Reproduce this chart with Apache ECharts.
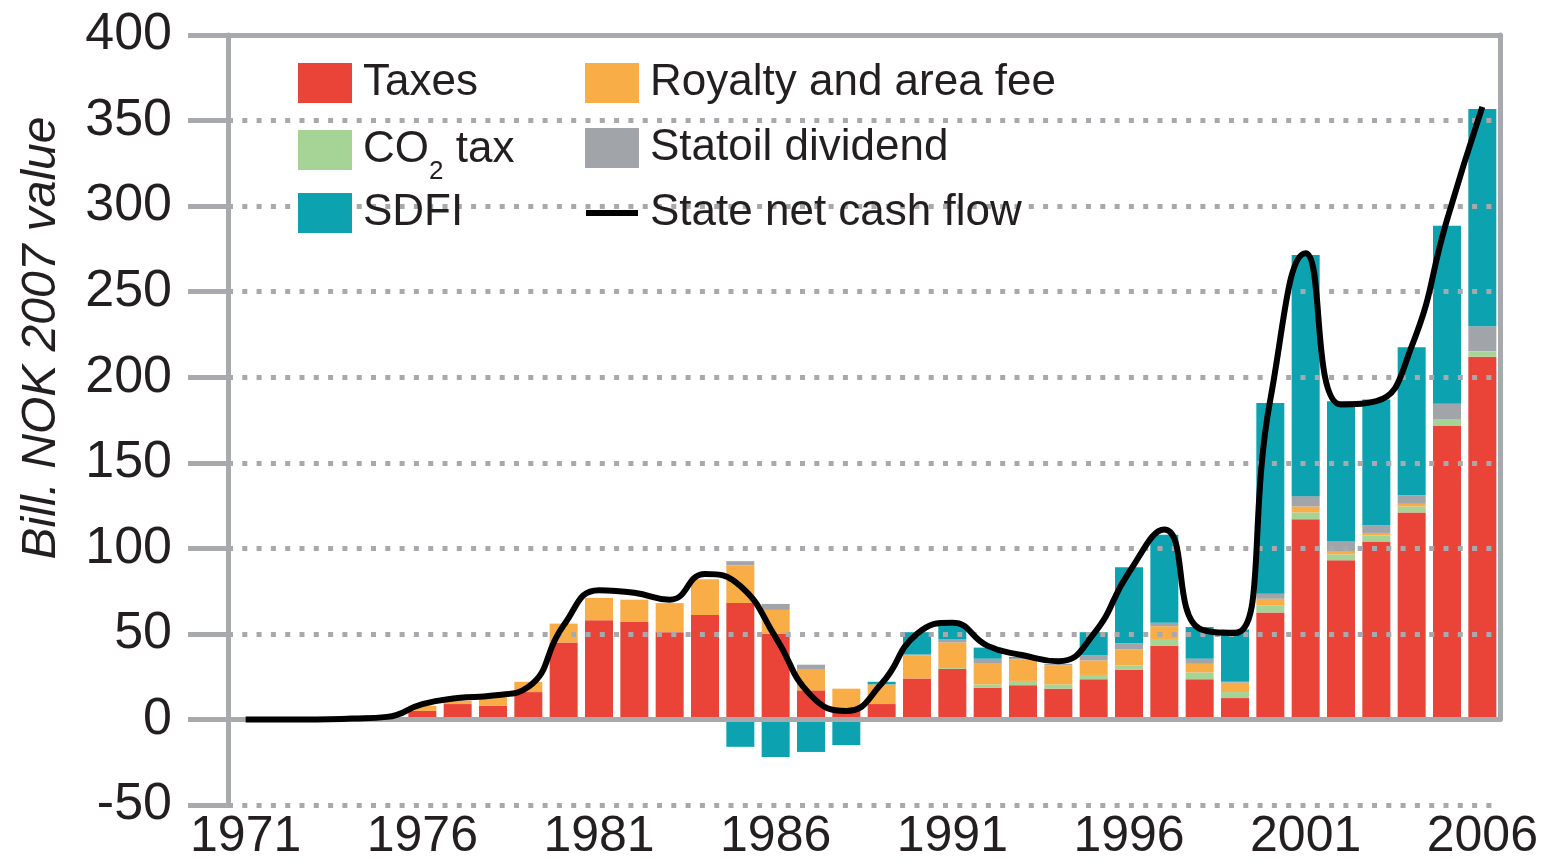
<!DOCTYPE html>
<html>
<head>
<meta charset="utf-8">
<script src="https://cdn.jsdelivr.net/npm/echarts@6/dist/echarts.min.js"></script>
<style>
html,body{margin:0;padding:0;background:#fff;}
#chart{width:1544px;height:867px;}
</style>
</head>
<body>
<div id="chart"></div>
<script>
const years = ['1971','1972','1973','1974','1975','1976','1977','1978','1979','1980','1981','1982','1983','1984','1985','1986','1987','1988','1989','1990','1991','1992','1993','1994','1995','1996','1997','1998','1999','2000','2001','2002','2003','2004','2005','2006'];
const taxes   = [0,0,0,0.5,0.5,5,9,8,16,45,58,57,51,61,68,50,17,6,9,24,29.5,18.5,20,18,23.5,29,43,23.5,12.5,62.5,117,93,104,121,171.5,212];
const co2Tax  = [0,0,0,0,0,0,0,0,0,0,0,0,0,0,0,0,0,0,0,0,0.5,2,2.5,2.5,2.5,2.5,3.5,4,3.5,4,4,3.5,3.5,3.5,3.5,3];
const royalty = [0,0,0,0.5,0.5,3,2,5,6,11,13,13,17,21,22,14,12.5,12,11.5,13.5,15,12.5,12.5,11,8.5,9.5,8,5,5.5,4,3.5,1.5,1.5,1.5,0.5,0.3];
const statoil = [0,0,0,0,0,0,0,0,0,0,0,0,0,0,2.5,3.5,2.5,0,0,0.5,2,2.5,1,1,3,3.5,2,3,0.5,3,6,6,4.5,5,9,14.5];
const sdfi    = [0,0,0,0,0,0,0,0,0,0,0,0,0,0,-16,-22,-19,-15,1.5,13,8,6.5,0.5,0,13.5,44.5,51.5,18.5,30.5,111.5,141,82,73.5,86.5,104,127];
const netCash = [0,0,0,0.5,1.5,9,12.5,14,19,55,75.5,74,70,85,78,48,14,5,21,50,56.5,43,37.5,34,50,86,111,53,50.5,187,272.5,184,186,218,292,358];
const yTicks = {min:-50, max:400, interval:50};

const FONT = "'Liberation Sans',Arial,sans-serif";
const GRAY = '#a8a9ad';
const TXT = '#231f20';

const chart = echarts.init(document.getElementById('chart'), null, {renderer:'canvas'});
const barBase = {type:'bar', stack:'total', barWidth:28, xAxisIndex:0, yAxisIndex:0, z:2};
const legendText = {
  fontFamily: FONT, fontSize: 44, color: TXT, lineHeight: 56, padding:[0,0,0,6],
  rich: {
    n: {fontFamily: FONT, fontSize: 44, color: TXT, lineHeight: 56},
    s: {fontFamily: FONT, fontSize: 26, color: TXT, lineHeight: 12, padding:[44,0,0,0]}
  }
};
const lineIcon = 'path://M0,0L0.01,0L0,0.01Z M0,17L52,17L52,23L0,23Z M52,40L51.99,40L52,39.99Z';
function legendAt(left, top, data, extra) {
  return Object.assign({left:left, top:top, padding:0, orient:'vertical', itemWidth:54, itemHeight:40, itemGap:9,
    icon:'rect', selectedMode:false, textStyle:legendText, data:data}, extra || {});
}

const option = {
  animation:false,
  backgroundColor:'#fff',
  grid:[
    {left:228, right:44, top:35, bottom:62},
    {left:228, right:44, top:35, bottom:147.6}
  ],
  legend:[
    legendAt(298, 55, ['Taxes']),
    legendAt(298, 115, ['CO2 tax'], {formatter: () => '{n|CO}{s|2}{n| tax}'}),
    legendAt(298, 185, ['SDFI']),
    legendAt(585, 55, ['Royalty and area fee','Statoil dividend',{name:'State net cash flow', icon:lineIcon}])
  ],
  xAxis:[
    {type:'category', gridIndex:0, data:years, boundaryGap:true,
     axisLine:{show:false}, axisTick:{show:false},
     axisLabel:{interval:4, margin:7, fontFamily:FONT, fontSize:50, color:TXT}},
    {type:'category', gridIndex:1, data:years, position:'top',
     axisLine:{show:true, onZero:false, lineStyle:{color:GRAY, width:5}}, axisTick:{show:false}, axisLabel:{show:false}}
  ],
  yAxis:[
    {type:'value', gridIndex:0, min:yTicks.min, max:yTicks.max, interval:yTicks.interval, z:3,
     name:'Bill. NOK 2007 value', nameLocation:'middle', nameGap:162,
     nameTextStyle:{fontFamily:FONT, fontStyle:'italic', fontSize:48, color:TXT, padding:[0,0,0,164]},
     axisLine:{show:true, lineStyle:{color:GRAY, width:5}},
     axisTick:{show:true, length:40, lineStyle:{color:GRAY, width:5}},
     axisLabel:{margin:56, fontFamily:FONT, fontSize:52, color:TXT},
     splitLine:{show:true, lineStyle:{color:GRAY, width:5, type:[5,9.3]}}},
    {type:'value', gridIndex:1, position:'right', min:0, max:400,
     axisLine:{show:true, onZero:false, lineStyle:{color:GRAY, width:5}}, axisTick:{show:false}, axisLabel:{show:false}, splitLine:{show:false}}
  ],
  series:[
    Object.assign({}, barBase, {name:'Taxes', data:taxes, itemStyle:{color:'#ea4439'},
      markLine:{silent:true, symbol:'none', label:{show:false}, lineStyle:{color:GRAY, width:5, type:'solid'}, data:[{yAxis:0}]}}),
    Object.assign({}, barBase, {name:'CO2 tax', data:co2Tax, itemStyle:{color:'#a6d396'}}),
    Object.assign({}, barBase, {name:'Royalty and area fee', data:royalty, itemStyle:{color:'#f9ad47'}}),
    Object.assign({}, barBase, {name:'Statoil dividend', data:statoil, itemStyle:{color:'#a1a5a9'}}),
    Object.assign({}, barBase, {name:'SDFI', data:sdfi, itemStyle:{color:'#0da2b0'}}),
    {name:'State net cash flow', type:'line', data:netCash, smooth:0.5, symbol:'none', z:10,
     xAxisIndex:0, yAxisIndex:0,
     itemStyle:{color:'#000'}, lineStyle:{color:'#000', width:6}}
  ]
};
chart.setOption(option);
</script>
</body>
</html>
